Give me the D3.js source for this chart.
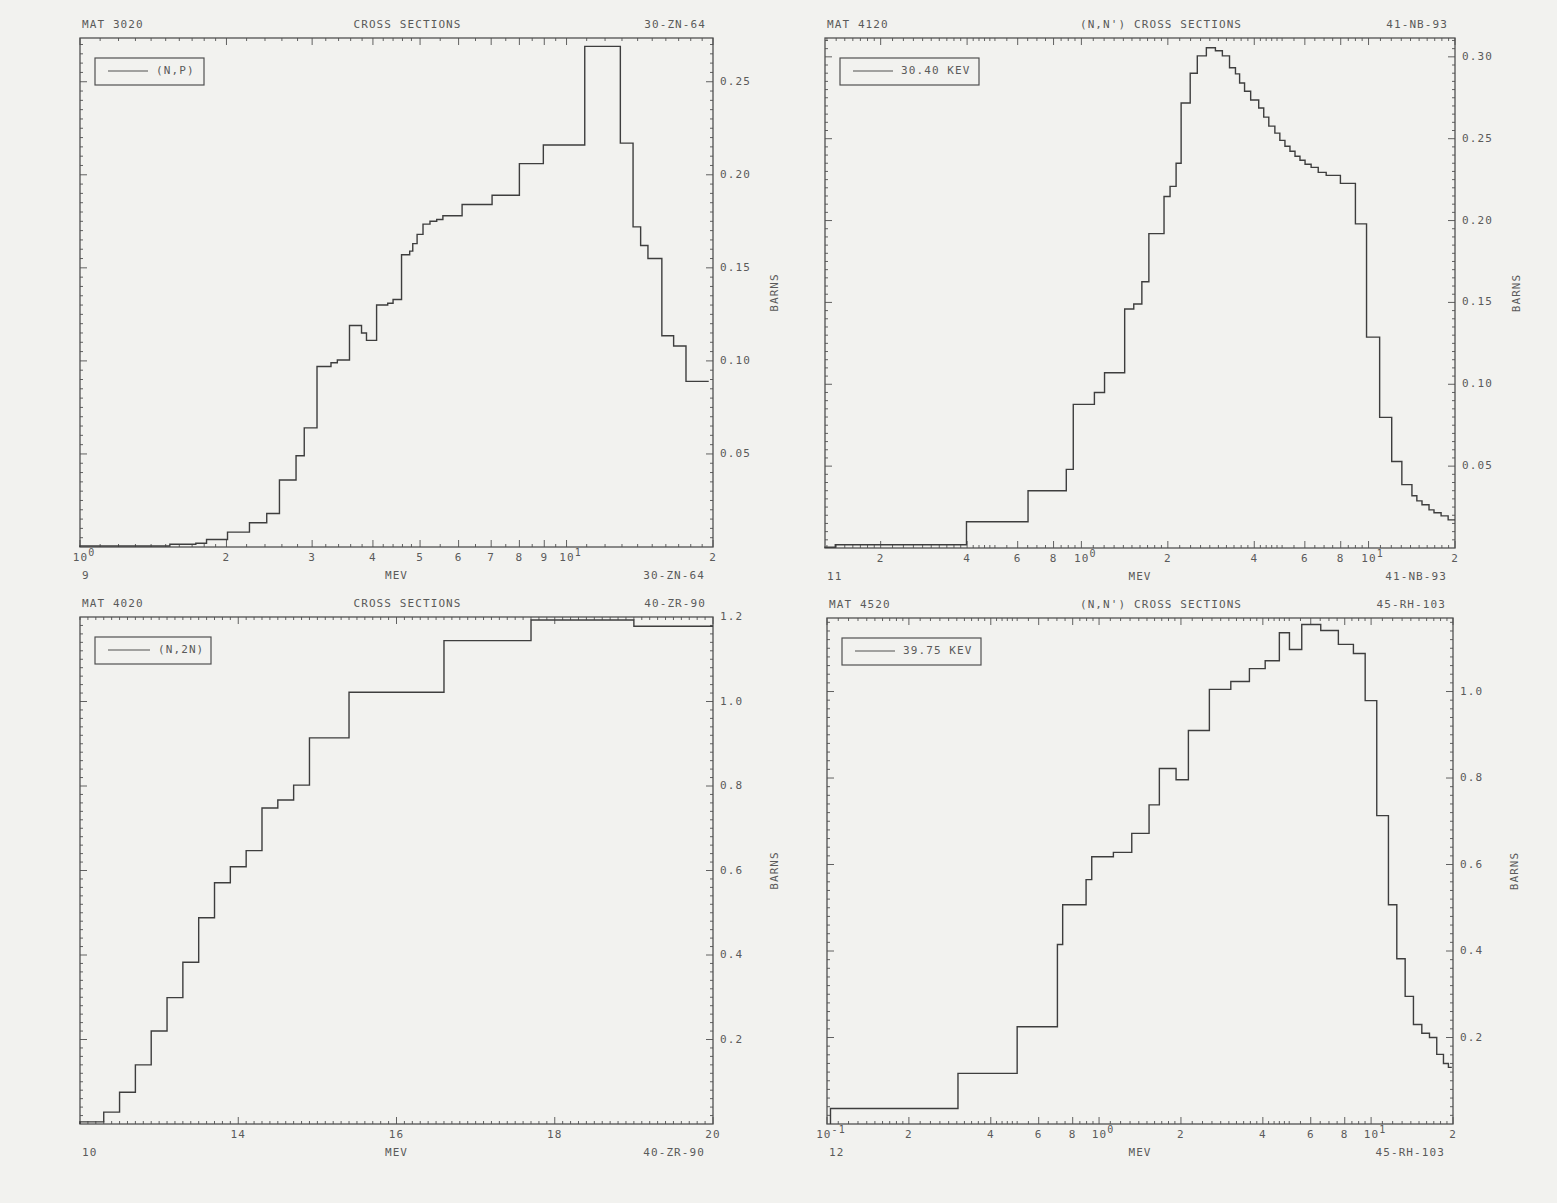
<!DOCTYPE html>
<html>
<head>
<meta charset="utf-8">
<script src="https://cdn.jsdelivr.net/npm/d3@7"></script>
<style>
  body { margin: 0; background: #f2f2ef; }
  text { font-family: "DejaVu Sans Mono", monospace; font-size: 11px; fill: #5a5a5a; letter-spacing: 1.1px; }
</style>
</head>
<body>
<div id="vis"></div>
<script>
// ---- data (bin edges in MeV, cross sections in barns) ----
var zn64Edges = [1.0, 1.53, 1.73, 1.82, 2.01, 2.23, 2.42, 2.57, 2.78, 2.89, 3.07, 3.28, 3.38, 3.58, 3.79, 3.88,
    4.07, 4.29, 4.40, 4.58, 4.76, 4.83, 4.93, 5.07, 5.24, 5.41, 5.57, 6.10, 7.03, 8.0, 8.96, 10.9, 12.9, 13.7,
    14.2, 14.7, 15.7, 16.6, 17.6, 19.6];
var zn64Values = [0.0005, 0.0015, 0.002, 0.004, 0.008, 0.013, 0.018, 0.036, 0.049, 0.064, 0.097, 0.099, 0.1005,
    0.119, 0.115, 0.111, 0.130, 0.131, 0.133, 0.157, 0.159, 0.163, 0.168, 0.1735, 0.175, 0.176, 0.178, 0.184,
    0.189, 0.206, 0.216, 0.269, 0.217, 0.172, 0.162, 0.155, 0.1135, 0.108, 0.089];

var nb93Edges = [0.128, 0.139, 0.398, 0.652, 0.886, 0.937, 1.11, 1.204, 1.415, 1.522, 1.624, 1.718, 1.94, 2.036,
    2.137, 2.225, 2.393, 2.533, 2.724, 2.929, 3.097, 3.28, 3.44, 3.556, 3.70, 3.886, 4.145, 4.315, 4.494, 4.718,
    4.91, 5.115, 5.325, 5.545, 5.77, 6.01, 6.31, 6.68, 7.12, 7.98, 9.0, 9.84, 10.93, 12.04, 13.06, 14.16, 14.73,
    15.35, 16.24, 16.9, 17.89, 18.93, 20];
var nb93Values = [0.0005, 0.002, 0.016, 0.035, 0.048, 0.0877, 0.095, 0.107, 0.146, 0.149, 0.1626, 0.192, 0.2147,
    0.2209, 0.235, 0.2718, 0.290, 0.3006, 0.3055, 0.3037, 0.3006, 0.2933, 0.2896, 0.284, 0.279, 0.2736, 0.2687,
    0.2632, 0.2577, 0.2534, 0.249, 0.2454, 0.2423, 0.2393, 0.2368, 0.2344, 0.2325, 0.2294, 0.2276, 0.2227, 0.198,
    0.1288, 0.0798, 0.0528, 0.0387, 0.0319, 0.0288, 0.0264, 0.0233, 0.0215, 0.0196, 0.0172];

var zr90Edges = [12, 12.3, 12.5, 12.7, 12.9, 13.1, 13.3, 13.5, 13.7, 13.9, 14.1, 14.3, 14.5, 14.7, 14.9, 15.4,
    16.6, 17.7, 19.0, 20.0];
var zr90Values = [0.005, 0.028, 0.075, 0.140, 0.220, 0.299, 0.383, 0.488, 0.571, 0.609, 0.647, 0.748, 0.767,
    0.802, 0.914, 1.022, 1.144, 1.193, 1.178];

var rh103Edges = [0.103, 0.303, 0.50, 0.703, 0.735, 0.896, 0.940, 1.129, 1.319, 1.527, 1.666, 1.919, 2.130, 2.544,
    3.05, 3.57, 4.08, 4.60, 5.01, 5.56, 6.53, 7.58, 8.61, 9.51, 10.49, 11.58, 12.43, 13.34, 14.31, 15.36, 16.39,
    17.43, 18.45, 19.24, 19.8];
var rh103Values = [0.036, 0.117, 0.225, 0.415, 0.507, 0.565, 0.618, 0.628, 0.672, 0.738, 0.822, 0.796, 0.910,
    1.005, 1.023, 1.053, 1.071, 1.136, 1.097, 1.155, 1.141, 1.109, 1.088, 0.979, 0.713, 0.507, 0.382, 0.295,
    0.230, 0.210, 0.200, 0.161, 0.140, 0.131];

// ---- tick values and labels ----
var zn64XTicks = [1, 2, 3, 4, 5, 6, 7, 8, 9, 10, 20];
var zn64XLabels = ['10^0', '2', '3', '4', '5', '6', '7', '8', '9', '10^1', '2'];
var nb93XTicks = [0.2, 0.4, 0.6, 0.8, 1, 2, 4, 6, 8, 10, 20];
var nb93XLabels = ['2', '4', '6', '8', '10^0', '2', '4', '6', '8', '10^1', '2'];
var zr90XTicks = [14, 16, 18, 20];
var zr90XLabels = ['14', '16', '18', '20'];
var rh103XTicks = [0.1, 0.2, 0.4, 0.6, 0.8, 1, 2, 4, 6, 8, 10, 20];
var rh103XLabels = ['10^-1', '2', '4', '6', '8', '10^0', '2', '4', '6', '8', '10^1', '2'];

var zn64YTicks = [0.05, 0.10, 0.15, 0.20, 0.25];
var nb93YTicks = [0.05, 0.10, 0.15, 0.20, 0.25, 0.30];
var zr90YTicks = [0.2, 0.4, 0.6, 0.8, 1.0, 1.2];
var rh103YTicks = [0.2, 0.4, 0.6, 0.8, 1.0];

var headers = [
    ['MAT 3020', 'CROSS SECTIONS', '30-ZN-64', '9', '30-ZN-64', '(N,P)'],
    ['MAT 4120', '(N,N\') CROSS SECTIONS', '41-NB-93', '11', '41-NB-93', '30.40 KEV'],
    ['MAT 4020', 'CROSS SECTIONS', '40-ZR-90', '10', '40-ZR-90', '(N,2N)'],
    ['MAT 4520', '(N,N\') CROSS SECTIONS', '45-RH-103', '12', '45-RH-103', '39.75 KEV']
];

// ---- layout ----
var panels = [
    {left: 80, top: 38, right: 713, bottom: 547, log: true, xDomain: [1, 20], yDomain: [0, 0.2735],
     edges: zn64Edges, values: zn64Values, xTicks: zn64XTicks, xLabels: zn64XLabels,
     yTicks: zn64YTicks, yFmt: '.2f', yMinor: 0.005, legendW: 109, legendLine: 40, titleDx: 11},
    {left: 825, top: 38, right: 1455, bottom: 548, log: true, xDomain: [0.128, 20], yDomain: [0, 0.3115],
     edges: nb93Edges, values: nb93Values, xTicks: nb93XTicks, xLabels: nb93XLabels,
     yTicks: nb93YTicks, yFmt: '.2f', yMinor: 0.005, legendW: 139, legendLine: 40, titleDx: 21},
    {left: 80, top: 617, right: 713, bottom: 1124, log: false, xDomain: [12, 20], yDomain: [0, 1.2],
     edges: zr90Edges, values: zr90Values, xTicks: zr90XTicks, xLabels: zr90XLabels,
     yTicks: zr90YTicks, yFmt: '.1f', yMinor: 0.02, legendW: 116, legendLine: 42, titleDx: 11},
    {left: 827, top: 618, right: 1453, bottom: 1124, log: true, xDomain: [0.1, 20], yDomain: [0, 1.17],
     edges: rh103Edges, values: rh103Values, xTicks: rh103XTicks, xLabels: rh103XLabels,
     yTicks: rh103YTicks, yFmt: '.1f', yMinor: 0.02, legendW: 139, legendLine: 40, titleDx: 21}
];

var ink = '#505050';

var svg = d3.select('#vis').append('svg')
    .attr('width', 1557)
    .attr('height', 1203);

function minorLogTicks(domain) {
    var out = [];
    for (var k = Math.floor(Math.log10(domain[0])); k <= Math.ceil(Math.log10(domain[1])); k++) {
        for (var m = 1; m < 10 - 1e-9; m += (m < 2 - 1e-9 ? 0.1 : (m < 5 - 1e-9 ? 0.2 : 0.5))) {
            var v = +(m * Math.pow(10, k)).toPrecision(6);
            if (v >= domain[0] && v <= domain[1]) out.push(v);
        }
    }
    return out;
}

panels.forEach(function(p, i) {
    var h = headers[i];
    var g = svg.append('g');
    var mid = (p.left + p.right) / 2;

    var x = (p.log ? d3.scaleLog() : d3.scaleLinear())
        .domain(p.xDomain)
        .range([p.left, p.right]);
    var y = d3.scaleLinear()
        .domain(p.yDomain)
        .range([p.bottom, p.top]);

    // frame
    g.append('rect')
        .attr('x', p.left).attr('y', p.top)
        .attr('width', p.right - p.left).attr('height', p.bottom - p.top)
        .attr('fill', 'none').attr('stroke', ink).attr('stroke-width', 1.3);

    // minor ticks, inward on all four sides
    var xm = p.log ? minorLogTicks(p.xDomain) : d3.range(p.xDomain[0], p.xDomain[1] + 1e-9, 0.1);
    var ym = d3.range(p.yMinor, p.yDomain[1], p.yMinor);
    var ticks = g.append('g').attr('stroke', ink).attr('stroke-width', 0.9);
    xm.forEach(function(v) {
        var px = x(v);
        var big = p.xTicks.indexOf(+v.toFixed(4)) >= 0;
        var len = big ? 7 : 3;
        ticks.append('line').attr('x1', px).attr('x2', px).attr('y1', p.bottom).attr('y2', p.bottom - len);
        ticks.append('line').attr('x1', px).attr('x2', px).attr('y1', p.top).attr('y2', p.top + len);
    });
    ym.forEach(function(v) {
        var py = y(v);
        var big = p.yTicks.some(function(t) { return Math.abs(t - v) < 1e-6; });
        var len = big ? 7 : 3;
        ticks.append('line').attr('x1', p.left).attr('x2', p.left + len).attr('y1', py).attr('y2', py);
        ticks.append('line').attr('x1', p.right).attr('x2', p.right - len).attr('y1', py).attr('y2', py);
    });

    // x tick labels
    p.xTicks.forEach(function(v, j) {
        var parts = p.xLabels[j].split('^');
        var t = g.append('text')
            .attr('x', x(v) + (parts.length > 1 ? 4 : 0))
            .attr('y', p.bottom + 14)
            .attr('text-anchor', 'middle')
            .text(parts[0]);
        if (parts.length > 1) {
            t.append('tspan')
                .attr('dy', -5)
                .attr('font-size', '10px')
                .text(parts[1]);
        }
    });

    // y tick labels on the right
    p.yTicks.forEach(function(v) {
        g.append('text')
            .attr('x', p.right + 7)
            .attr('y', y(v))
            .attr('dominant-baseline', 'middle')
            .text(d3.format(p.yFmt)(v));
    });

    g.append('text')
        .attr('transform', 'translate(' + (p.right + 62) + ',' + ((p.top + p.bottom) / 2) + ') rotate(-90)')
        .attr('text-anchor', 'middle')
        .attr('dominant-baseline', 'middle')
        .text('BARNS');

    // header and footer
    g.append('text').attr('x', p.left + 2).attr('y', p.top - 10).text(h[0]);
    g.append('text').attr('x', mid + p.titleDx).attr('y', p.top - 10)
        .attr('text-anchor', 'middle').text(h[1]);
    g.append('text').attr('x', p.right - 7).attr('y', p.top - 10)
        .attr('text-anchor', 'end').text(h[2]);
    g.append('text').attr('x', p.left + 2).attr('y', p.bottom + 32).text(h[3]);
    g.append('text').attr('x', mid).attr('y', p.bottom + 32)
        .attr('text-anchor', 'middle').text('MEV');
    g.append('text').attr('x', p.right - 8).attr('y', p.bottom + 32)
        .attr('text-anchor', 'end').text(h[4]);

    // legend
    var lx = p.left + 15, ly = p.top + 20;
    g.append('rect')
        .attr('x', lx).attr('y', ly)
        .attr('width', p.legendW).attr('height', 27)
        .attr('fill', 'none').attr('stroke', ink).attr('stroke-width', 1.2);
    g.append('line')
        .attr('x1', lx + 13).attr('x2', lx + 13 + p.legendLine)
        .attr('y1', ly + 13).attr('y2', ly + 13)
        .attr('stroke', ink).attr('stroke-width', 1.1);
    g.append('text')
        .attr('x', lx + 21 + p.legendLine).attr('y', ly + 13)
        .attr('dominant-baseline', 'middle')
        .text(h[5]);

    // step curve
    var pts = [[p.edges[0], 0]];
    p.values.forEach(function(v, j) { pts.push([p.edges[j], v]); });
    pts.push([p.edges[p.edges.length - 1], p.values[p.values.length - 1]]);

    g.append('path')
        .datum(pts)
        .attr('fill', 'none')
        .attr('stroke', '#3e3e3e')
        .attr('stroke-width', 1.4)
        .attr('d', d3.line()
            .x(function(d) { return x(d[0]); })
            .y(function(d) { return y(d[1]); })
            .curve(d3.curveStepAfter));
});
</script>
</body>
</html>
